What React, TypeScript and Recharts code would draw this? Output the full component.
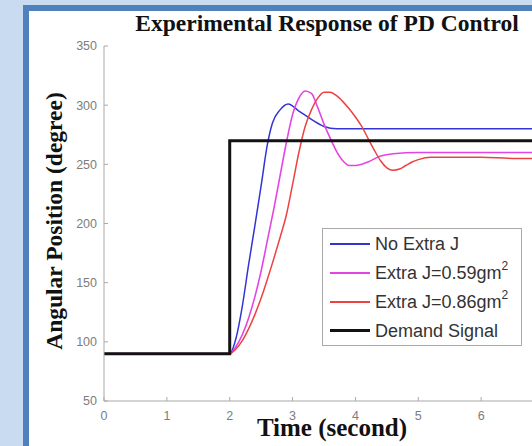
import { Legend, Line, LineChart, XAxis, YAxis } from "recharts"

// time (s) and angular position (degree)
const TIME_NO_J = [0, 2, 2.1, 2.2, 2.3, 2.4, 2.5, 2.6, 2.68, 2.8, 2.93, 3.1, 3.3, 3.5, 3.7, 4, 5, 6, 7]
const NO_J = [90, 90, 103, 130, 165, 198, 232, 267, 285, 296, 301, 295, 288, 282, 280, 280, 280, 280, 280]

const TIME_J059 = [0, 2, 2.1, 2.2, 2.3, 2.4, 2.5, 2.6, 2.7, 2.8, 2.9, 3.0, 3.1, 3.2, 3.3, 3.4, 3.5, 3.6, 3.7, 3.8, 3.9, 4.0, 4.2, 4.4, 4.6, 5, 6, 7]
const J059 = [90, 90, 96, 106, 120, 138, 160, 186, 212, 240, 268, 292, 306, 312, 310, 298, 284, 272, 261, 253, 249, 249, 252, 257, 259, 260, 260, 260]

const TIME_J086 = [0, 2, 2.1, 2.2, 2.3, 2.4, 2.5, 2.6, 2.7, 2.8, 2.9, 3.0, 3.1, 3.2, 3.3, 3.4, 3.5, 3.6, 3.7, 3.8, 3.9, 4.0, 4.1, 4.2, 4.3, 4.4, 4.5, 4.6, 4.7, 4.8, 4.9, 5.0, 5.2, 5.5, 6, 6.5, 7]
const J086 = [90, 90, 94, 101, 111, 123, 137, 153, 170, 188, 207, 233, 260, 282, 296, 306, 311, 311, 308, 303, 297, 290, 282, 272, 262, 253, 247, 245, 246, 249, 252, 254, 256, 256, 256, 255, 255]

const TIME_DEMAND = [0, 2, 2, 7]
const DEMAND = [90, 90, 270, 270]

// the 7 tick sits past the cropped right edge
const X_TICKS = [0, 1, 2, 3, 4, 5, 6]
const Y_TICKS = [50, 100, 150, 200, 250, 300, 350]

const toPoints = (ts: number[], vs: number[]) => ts.map((t, i) => ({ t, v: vs[i] }))

const SERIES = [
  { key: "noJ", name: "No Extra J", sup: "", color: "#3434d4", width: 1.5, curve: "monotone" as const, data: toPoints(TIME_NO_J, NO_J) },
  { key: "j059", name: "Extra J=0.59gm", sup: "2", color: "#e444e4", width: 1.6, curve: "monotone" as const, data: toPoints(TIME_J059, J059) },
  { key: "j086", name: "Extra J=0.86gm", sup: "2", color: "#ec4242", width: 1.5, curve: "monotone" as const, data: toPoints(TIME_J086, J086) },
  { key: "demand", name: "Demand Signal", sup: "", color: "#121212", width: 3, curve: "linear" as const, data: toPoints(TIME_DEMAND, DEMAND) },
]

const SERIF = '"Liberation Serif", "Times New Roman", serif'
const SANS = '"Liberation Sans", Arial, sans-serif'
const AXIS = "#a9a9a9"
const TICK = { fill: "#7d7d7d", fontSize: 12.5, fontFamily: SANS }

function LegendBox() {
  return (
    <div
      style={{
        boxSizing: "border-box",
        width: 200,
        height: 118,
        border: `1px solid ${AXIS}`,
        background: "#fff",
        fontFamily: SANS,
        fontSize: 18,
        color: "#333",
      }}
    >
      {SERIES.map((s) => (
        <div key={s.key} style={{ display: "flex", alignItems: "center", height: 29 }}>
          <span style={{ width: 40, marginLeft: 7, borderTop: `${Math.max(s.width, 2)}px solid ${s.color}` }} />
          <span style={{ marginLeft: 5, lineHeight: 1, whiteSpace: "nowrap" }}>
            {s.name}
            {s.sup && <span style={{ fontSize: 12, position: "relative", top: -9 }}>{s.sup}</span>}
          </span>
        </div>
      ))}
    </div>
  )
}

export default function App() {
  return (
    <div style={{ position: "absolute", left: 0, top: 0, width: 532, height: 446, overflow: "hidden", background: "#c9dbf0" }}>
      <div
        style={{
          position: "absolute",
          left: 23,
          top: 5,
          width: 560,
          height: 480,
          border: "6px solid #4f81bd",
          background: "#fff",
        }}
      />
      <div style={{ position: "absolute", left: 0, top: 0 }}>
        <LineChart width={560} height={446} margin={{ top: 46, right: 16, bottom: 0, left: 0 }}>
          <XAxis
            xAxisId="top"
            orientation="top"
            type="number"
            dataKey="t"
            domain={[0, 7]}
            ticks={X_TICKS}
            tick={false}
            tickSize={-4}
            height={0}
            stroke={AXIS}
          />
          <XAxis
            type="number"
            dataKey="t"
            domain={[0, 7]}
            ticks={X_TICKS}
            tick={TICK}
            tickSize={-4}
            tickMargin={14}
            height={45}
            stroke={AXIS}
            allowDataOverflow
          />
          <YAxis
            type="number"
            domain={[50, 350]}
            ticks={Y_TICKS}
            tick={TICK}
            tickSize={-4}
            tickMargin={11}
            width={104}
            stroke={AXIS}
          />
          {SERIES.map((s) => (
            <Line
              key={s.key}
              data={s.data}
              dataKey="v"
              name={s.name}
              type={s.curve}
              stroke={s.color}
              strokeWidth={s.width}
              dot={false}
              activeDot={false}
              isAnimationActive={false}
            />
          ))}
          <Legend
            layout="vertical"
            align="center"
            verticalAlign="middle"
            wrapperStyle={{ left: 322, top: 228 }}
            content={() => <LegendBox />}
          />
        </LineChart>
      </div>
      <div
        style={{
          position: "absolute",
          left: 104,
          width: 446,
          top: 12,
          textAlign: "center",
          fontFamily: SERIF,
          fontWeight: "bold",
          fontSize: 23.5,
          lineHeight: "23.5px",
          color: "#111",
          whiteSpace: "nowrap",
        }}
      >
        Experimental Response of PD Control
      </div>
      <div
        style={{
          position: "absolute",
          left: 332 - 150,
          width: 300,
          top: 415,
          textAlign: "center",
          fontFamily: SERIF,
          fontWeight: "bold",
          fontSize: 25,
          lineHeight: "25px",
          color: "#111",
          whiteSpace: "nowrap",
        }}
      >
        Time (second)
      </div>
      <div
        style={{
          position: "absolute",
          left: 54 - 160,
          top: 221 - 12,
          width: 320,
          height: 24,
          transform: "rotate(-90deg)",
          textAlign: "center",
          fontFamily: SERIF,
          fontWeight: "bold",
          fontSize: 23.5,
          lineHeight: "24px",
          color: "#111",
          whiteSpace: "nowrap",
        }}
      >
        Angular Position (degree)
      </div>
    </div>
  )
}
